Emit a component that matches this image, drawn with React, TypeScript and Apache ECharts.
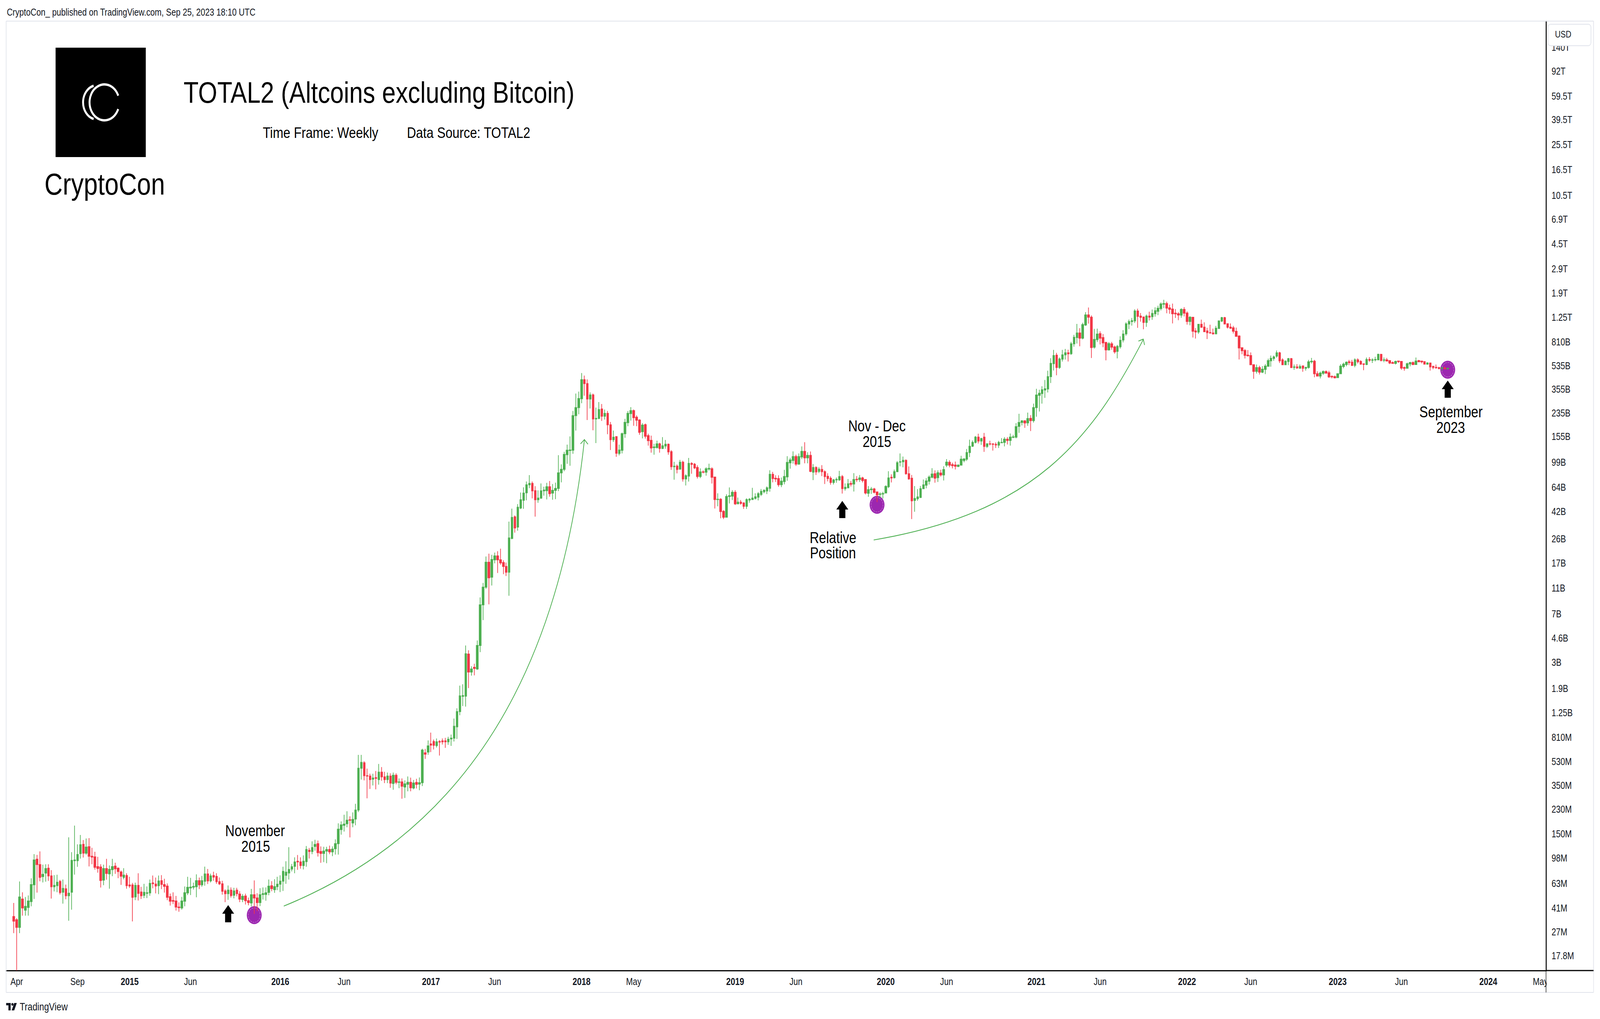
import React, { useEffect, useRef } from "react";
import * as echarts from "echarts";

// ---------- DATA (weekly candles, values in millions of USD: [open, close, low, high]) ----------
const FIRST_WEEK = "2014-03-31";

const ohlc2014: number[][] = [
  [35.4, 32.7, 26.5, 44.9], [33.5, 29.3, 13.8, 34.4], [29.3, 49.8, 26.5, 65.4], [48.1, 41.2, 36.0, 54.1],
  [39.6, 42.3, 36.0, 49.8], [41.5, 46.5, 36.0, 51.2], [46.0, 61.9, 42.4, 69.1], [61.7, 95.2, 48.2, 105.5],
  [96.5, 87.9, 53.8, 104.0], [87.9, 70.2, 65.6, 110.6], [71.2, 74.0, 64.3, 87.7], [75.7, 81.9, 65.1, 88.3],
  [82.5, 72.1, 66.1, 88.3], [72.1, 59.6, 48.5, 79.7], [59.6, 61.1, 54.9, 73.0], [60.8, 64.5, 54.2, 73.5],
  [65.4, 53.8, 52.0, 67.2], [54.2, 57.9, 44.4, 67.7], [57.5, 51.0, 47.9, 61.9], [51.0, 53.3, 32.9, 141.4],
  [54.2, 94.6, 39.9, 109.1], [94.1, 95.2, 73.7, 173.6], [94.1, 104.8, 84.4, 125.1], [106.4, 124.3, 97.4, 147.4],
  [125.1, 107.2, 99.4, 134.9], [107.2, 119.3, 104.3, 138.6], [120.1, 101.5, 85.0, 139.5], [101.5, 100.1, 88.5, 117.7],
  [100.5, 83.8, 80.4, 109.9], [84.8, 82.1, 76.2, 100.5], [84.2, 66.5, 58.8, 88.3], [67.0, 81.9, 61.3, 87.7],
  [81.9, 75.2, 67.4, 97.2], [74.7, 80.8, 57.6, 86.5], [80.4, 84.8, 71.7, 97.2], [85.4, 81.6, 74.7, 90.8],
  [82.5, 77.8, 69.3, 83.6], [77.1, 71.7, 61.6, 79.2], [70.2, 73.0, 67.9, 82.5], [72.5, 60.8, 57.6, 75.5],
];

const ohlc2015: number[][] = [
  [61.5, 60.4, 58.4, 71.0], [61.5, 49.6, 32.5, 63.7], [49.9, 61.1, 47.2, 64.1], [61.1, 53.1, 46.9, 75.5],
  [54.4, 51.0, 48.2, 59.5], [51.3, 54.1, 48.9, 62.8], [53.1, 53.7, 48.9, 59.9], [53.5, 63.2, 51.0, 67.7],
  [63.7, 62.9, 58.0, 72.5], [62.4, 60.4, 53.1, 70.0], [60.8, 65.9, 52.4, 72.5], [66.3, 62.1, 57.2, 73.0],
  [61.9, 60.0, 53.8, 68.6], [60.3, 49.6, 47.2, 63.2], [50.1, 46.3, 42.9, 52.9], [46.9, 46.3, 44.1, 54.1],
  [46.5, 41.8, 39.3, 50.8], [41.8, 41.4, 38.5, 45.4], [41.2, 46.5, 39.9, 49.9], [46.3, 53.7, 42.4, 59.9],
  [53.5, 59.0, 51.6, 71.0], [58.4, 59.2, 51.6, 69.6], [59.2, 59.9, 56.8, 64.1], [59.6, 66.3, 49.6, 74.0],
  [66.3, 61.7, 57.2, 70.0], [61.7, 66.3, 59.6, 72.0], [65.6, 74.5, 60.8, 84.8], [74.5, 66.0, 62.5, 81.4],
  [66.0, 72.0, 64.3, 75.0], [72.5, 70.6, 66.2, 77.6], [71.5, 65.2, 62.7, 75.5], [65.2, 62.7, 61.4, 70.1],
  [62.7, 55.1, 51.9, 66.2], [55.4, 52.8, 45.5, 57.0], [52.8, 56.2, 47.4, 61.0], [56.2, 51.1, 49.3, 58.9],
  [51.4, 55.4, 48.7, 58.5], [56.2, 52.8, 50.4, 58.5], [52.5, 48.0, 45.5, 55.1], [47.7, 50.4, 45.5, 52.5],
  [50.7, 46.7, 43.7, 52.8], [46.7, 45.2, 43.1, 49.3], [44.9, 51.8, 42.2, 57.4], [51.8, 49.0, 37.1, 66.6],
  [49.0, 45.2, 38.9, 53.2], [45.2, 51.8, 42.5, 58.1], [52.1, 52.8, 47.7, 58.9], [52.1, 53.6, 46.7, 58.9],
  [54.0, 60.2, 51.4, 67.6], [60.6, 57.7, 55.1, 65.7], [56.6, 59.7, 53.6, 68.0], [59.7, 62.3, 56.2, 70.9],
];

const ohlc2016: number[][] = [
  [62.3, 65.7, 54.3, 72.8], [65.7, 78.0, 55.4, 84.6], [72.8, 76.9, 62.7, 93.1], [75.9, 80.7, 67.6, 119.0],
  [81.2, 84.6, 78.0, 88.8], [85.2, 91.9, 75.4, 99.7], [93.1, 91.9, 80.1, 103.8], [91.9, 86.4, 81.8, 99.7],
  [86.4, 93.1, 80.7, 103.2], [92.5, 114.3, 84.6, 121.5], [112.7, 110.4, 97.7, 117.4], [110.4, 118.2, 105.3, 131.9],
  [120.7, 124.9, 111.9, 135.5], [126.6, 108.2, 101.1, 133.7], [110.4, 106.7, 90.6, 120.7], [106.7, 111.2, 91.6, 119.9],
  [111.2, 114.3, 90.0, 119.9], [114.3, 109.7, 105.3, 122.4], [109.7, 115.1, 101.7, 120.7], [115.8, 126.6, 104.5, 136.5],
  [126.6, 162.9, 104.5, 180.6], [161.8, 175.7, 148.1, 186.8], [174.5, 178.1, 156.4, 209.8], [179.3, 190.6, 168.6, 223.1],
  [192.0, 190.6, 141.2, 204.2], [181.8, 193.3, 168.6, 218.6], [194.6, 227.7, 174.5, 254.0], [227.7, 472.5, 220.1, 597.3],
  [472.5, 523.4, 387.8, 597.3], [519.8, 415.2, 382.5, 534.2], [415.2, 412.4, 279.4, 469.3], [412.4, 387.8, 329.2, 429.6],
  [390.4, 398.5, 350.0, 429.6], [401.3, 395.8, 327.0, 450.5], [387.8, 441.4, 354.8, 509.3], [441.4, 406.8, 379.9, 482.3],
  [406.8, 387.8, 364.6, 444.4], [387.8, 412.4, 364.6, 438.4], [412.4, 364.6, 336.0, 432.5], [362.1, 418.1, 324.8, 438.4],
  [418.1, 369.6, 357.2, 432.5], [369.6, 372.2, 333.8, 395.8], [372.2, 345.3, 277.5, 395.8], [340.7, 359.7, 281.3, 382.5],
  [357.2, 369.6, 316.0, 409.6], [369.6, 336.0, 316.0, 401.3], [335.0, 365.4, 326.9, 385.3], [369.0, 356.7, 331.7, 392.9],
  [358.4, 367.2, 322.2, 402.5], [367.2, 649.4, 346.5, 665.3], [618.8, 604.0, 556.5, 662.2], [627.9, 698.6, 598.3, 769.4],
];

const ohlc2017: number[][] = [
  [722.6, 708.8, 627.9, 880.7], [754.7, 705.4, 655.7, 780.6], [702.0, 751.0, 678.6, 795.9], [754.7, 747.4, 589.7, 773.1],
  [762.0, 751.0, 715.7, 795.9], [762.0, 751.0, 675.3, 803.5], [751.0, 784.4, 712.2, 819.0], [788.2, 799.8, 698.6, 851.5],
  [799.8, 984.2, 754.7, 1127], [974.8, 1272, 788.2, 1348], [1272, 1675, 1194, 2003], [1659, 1683, 1401, 2052],
  [1667, 3492, 1387, 4036], [3475, 2539, 1918, 3718], [2539, 2677, 2384, 2809], [2755, 2703, 2395, 2935],
  [2677, 4036, 2639, 4403], [4036, 8213, 3594, 9359], [8213, 11195, 6297, 12032], [11195, 17292, 10875, 19138],
  [17292, 13193, 8292, 20087], [13321, 18149, 11524, 19702], [18061, 19324, 16963, 20480], [19324, 18061, 14322, 20981],
  [18061, 17128, 16557, 21913], [17211, 16082, 14047, 17886], [16082, 14532, 13583, 17211], [14532, 26460, 9634, 35190],
  [26205, 37850, 25823, 44157], [38217, 31500, 29000, 39145], [31960, 45240, 29990, 47710], [44590, 51530, 43740, 58470],
  [51050, 57900, 43950, 64070], [58180, 66910, 51050, 70900], [66910, 68550, 63150, 79250], [68550, 60180, 52800, 70900],
  [60470, 51530, 38400, 65310], [51530, 53060, 48880, 60760], [53060, 60180, 52290, 68550], [60180, 61050, 55420, 64680],
  [60470, 64680, 51780, 69210], [64680, 57330, 54360, 71590], [57900, 60760, 51530, 67880], [60760, 62840, 52040, 69550],
  [62840, 82380, 59900, 112200], [82380, 87700, 69890, 95700], [87700, 113900, 84800, 118900], [113300, 122400, 96630, 134900],
  [121800, 123000, 93420, 155900], [122400, 224000, 115000, 243200], [224000, 257800, 172600, 329800], [257800, 302300, 229500, 341200],
];

const ohlc2018: number[][] = [
  [300900, 420100, 278400, 471600], [420100, 392600, 317300, 451400], [392600, 299400, 207400, 422100], [299400, 321900, 254000, 336300],
  [321900, 211400, 173400, 329800], [211400, 213500, 138800, 257800], [213500, 249200, 210400, 283900], [251600, 221900, 204400, 274400],
  [221900, 232900, 209400, 249200], [232900, 191000, 162100, 243200], [191000, 147200, 123000, 200500], [147200, 153700, 141500, 172600],
  [155200, 116100, 109000, 156700], [115700, 122800, 111800, 135000], [122300, 163500, 115700, 166900], [163500, 199200, 152100, 211900],
  [198300, 233100, 186500, 242900], [232100, 244600, 205300, 260000], [244600, 216300, 187800, 249600], [217900, 206700, 186500, 225300],
  [207600, 167300, 160500, 210500], [169500, 190000, 150700, 196600], [191300, 156300, 150000, 195300], [158000, 144900, 132600, 163500],
  [145600, 127300, 117300, 158000], [128200, 129600, 113300, 136900], [128200, 136900, 126400, 144900], [136900, 126400, 117300, 139700],
  [126400, 132300, 125000, 153900], [131700, 136000, 125600, 146600], [136000, 118900, 113300, 137800], [119400, 91800, 86900, 122600],
  [91800, 92600, 73200, 100000], [92800, 87500, 81700, 95400], [88100, 99300, 86900, 103500], [99300, 74200, 70800, 102100],
  [74200, 78500, 66100, 80400], [77900, 97300, 70800, 107100], [97300, 95600, 81200, 99300], [96000, 89900, 88100, 97900],
  [90500, 77400, 74700, 94100], [77400, 83900, 75200, 89100], [83900, 83400, 81700, 86100], [83400, 88500, 78500, 90900],
  [88100, 89100, 85700, 96700], [88500, 76300, 68400, 90900], [76600, 51700, 44200, 77200], [51700, 52000, 46000, 57700],
  [52000, 41900, 37300, 53000], [42100, 38000, 36800, 43000], [38000, 54500, 37800, 56700], [54500, 55300, 48300, 63900],
  [54900, 58700, 51300, 60900],
];

const ohlc2019: number[][] = [
  [58700, 48000, 47000, 60900], [48000, 49400, 47800, 53500], [49400, 48300, 47300, 51300], [48700, 46000, 43900, 49300],
  [46000, 51700, 43900, 52800], [51300, 52000, 49000, 53100], [51700, 53100, 51300, 63500], [52800, 54300, 51700, 57700],
  [53900, 57300, 50900, 58900], [56500, 59700, 55000, 62200], [59300, 60800, 57700, 61800], [60100, 63500, 56900, 65000],
  [63000, 80400, 59300, 86300], [80400, 74700, 69800, 83900], [75000, 74200, 70300, 79000], [74700, 67000, 64700, 79000],
  [67000, 71300, 64300, 75900], [70800, 77400, 67500, 86900], [76900, 98900, 71800, 110300], [98200, 103200, 88700, 107300],
  [102400, 109600, 96900, 120000], [109600, 96200, 93000, 113300], [96200, 109600, 95000, 115700], [108800, 120000, 105100, 130800],
  [120000, 107300, 97500, 141000], [107300, 111800, 97500, 118100], [111800, 84500, 83400, 119700], [83400, 90500, 72600, 96200],
  [90500, 83900, 79500, 92400], [84500, 87900, 82200, 91100], [87500, 84100, 77900, 94300], [84100, 77200, 67800, 86100],
  [77600, 74700, 71100, 81900], [75000, 69700, 67000, 77700], [69700, 72900, 67300, 74200], [72900, 73500, 69400, 75900],
  [73000, 77200, 71600, 85500], [77200, 62600, 57400, 79400], [62600, 64000, 60400, 68600], [63500, 68100, 62900, 74000],
  [68400, 67600, 65000, 71600], [67800, 73400, 59500, 82000], [73700, 73200, 70300, 77900], [73400, 75400, 70300, 79400],
  [75400, 72100, 69700, 77000], [73400, 58000, 56500, 73700], [57700, 61500, 54300, 65500], [61500, 62100, 57100, 64400],
  [62200, 58700, 57500, 63500], [59000, 56100, 49500, 59700], [56600, 57000, 53000, 58700], [57000, 57400, 52700, 59200],
];

const ohlc2020: number[][] = [
  [58000, 65000, 57800, 66400], [64700, 75400, 63200, 84900], [76300, 75400, 69700, 80300], [75800, 84100, 74700, 87300],
  [84100, 98400, 83700, 101400], [99500, 100200, 92400, 115700], [100200, 102500, 90900, 109600], [102500, 81200, 79900, 104400],
  [81200, 74200, 73200, 92200], [75000, 50600, 36800, 79400], [50900, 52700, 41800, 65500], [52400, 54200, 50600, 62100],
  [53600, 62500, 53200, 65600], [62500, 66800, 62200, 73400], [66500, 71600, 62900, 75200], [71300, 76600, 67300, 79000],
  [76300, 80800, 74900, 89500], [81200, 75200, 69400, 86100], [75800, 82600, 70300, 86100], [82200, 79500, 77200, 87100],
  [79500, 87300, 72100, 92600], [94300, 99500, 91100, 104900], [99100, 94300, 90900, 102800], [95100, 93600, 89100, 98400],
  [94500, 92600, 87500, 100500], [92200, 94300, 91100, 95600], [94300, 104600, 94100, 111100], [102300, 105100, 99100, 106600],
  [104600, 117500, 101600, 125100], [117500, 131100, 108600, 147300], [131400, 140300, 129600, 145200], [140300, 153900, 137800, 157100],
  [153900, 143800, 137800, 163500], [143800, 150000, 134200, 152100], [153900, 130800, 118900, 165800], [130800, 136900, 127300, 138500],
  [137200, 136300, 133200, 144600], [136600, 135700, 121700, 138500], [135700, 134200, 127300, 140300], [133800, 140300, 127300, 144200],
  [139400, 140300, 138500, 151400], [140300, 148600, 130800, 153900], [148300, 145200, 135400, 153900], [145200, 153900, 132600, 163900],
  [153500, 154600, 151400, 160200], [153900, 184800, 150700, 196600], [185800, 198800, 166100, 231600], [198800, 204400, 189100, 207100],
  [204400, 197100, 181100, 207100], [197500, 212800, 187800, 236400], [213500, 205400, 171200, 226000], [205400, 257900, 198500, 276400],
];

const ohlc2021: number[][] = [
  [257900, 321400, 219900, 358600], [319900, 331100, 240900, 352100], [329600, 352100, 276400, 374500], [350500, 358600, 306000, 417700],
  [357000, 443000, 335700, 491100], [443000, 558100, 396400, 610900], [555600, 640600, 493300, 706400], [645000, 519500, 453300, 672100],
  [519500, 602600, 506600, 619000], [601200, 647800, 576800, 706400], [647800, 672100, 597000, 719300], [672100, 659800, 576800, 709300],
  [661400, 786000, 647800, 813300], [786000, 880600, 747900, 919700], [876500, 949800, 789600, 1113000], [949800, 867000, 753000, 1033000],
  [867000, 1100000, 849700, 1136000], [1093000, 1303000, 1074000, 1365000], [1303000, 1253000, 1118000, 1483000], [1253000, 736000, 613800, 1291000],
  [741100, 847800, 722600, 1021000], [845900, 932400, 811500, 1026000], [938900, 867000, 778200, 977200], [876500, 798800, 741100, 932400],
  [804300, 706400, 588800, 814900], [706400, 787800, 698000, 809600], [786000, 741100, 709300, 813300], [744500, 683000, 661400, 762700],
  [689300, 751300, 609500, 771500], [746200, 836100, 722600, 896800], [839900, 932400, 806100, 998200], [934600, 1113000, 905100, 1146000],
  [1111000, 1160000, 1017000, 1200000], [1160000, 1178000, 1081000, 1236000], [1173000, 1395000, 1133000, 1438000], [1395000, 1270000, 1040000, 1453000],
  [1276000, 1248000, 1157000, 1346000], [1256000, 1141000, 1014000, 1262000], [1141000, 1276000, 1058000, 1312000], [1276000, 1253000, 1181000, 1377000],
  [1262000, 1336000, 1195000, 1430000], [1330000, 1401000, 1262000, 1487000], [1388000, 1463000, 1297000, 1528000], [1456000, 1577000, 1408000, 1621000],
  [1570000, 1588000, 1467000, 1698000], [1588000, 1467000, 1340000, 1643000], [1473000, 1436000, 1330000, 1558000], [1443000, 1330000, 1123000, 1588000],
  [1342000, 1327000, 1236000, 1443000], [1330000, 1300000, 1187000, 1368000], [1297000, 1433000, 1239000, 1463000], [1433000, 1343000, 1270000, 1493000],
];

const ohlc2022: number[][] = [
  [1346000, 1162000, 1100000, 1385000], [1162000, 1251000, 1086000, 1276000], [1251000, 979500, 878600, 1251000], [984000, 966200, 861100, 1035000],
  [966200, 1105000, 934600, 1113000], [1105000, 1050000, 1040000, 1200000], [1052000, 970600, 963900, 1144000], [984000, 954200, 854400, 1040000],
  [956400, 947500, 945000, 1098000], [949800, 934600, 924000, 1026000], [934600, 1033000, 932000, 1076000], [1028000, 1173000, 1024000, 1178000],
  [1170000, 1242000, 1149000, 1259000], [1242000, 1111000, 1105000, 1259000], [1116000, 1050000, 1028000, 1121000], [1052000, 1033000, 1021000, 1123000],
  [1040000, 979500, 941100, 1076000], [977200, 896800, 888600, 1043000], [900900, 730900, 598200, 911300], [734200, 696800, 655300, 739200],
  [700000, 642100, 607800, 717700], [645000, 637700, 629000, 704700], [640600, 545100, 541400, 676500], [545100, 485400, 426200, 550100],
  [485400, 518600, 467900, 547600], [518600, 478700, 459500, 536500], [478700, 504500, 471100, 532900], [502200, 532900, 462700, 551400],
  [530400, 586100, 530400, 606500], [583400, 610600, 526800, 640600], [607800, 624800, 583400, 640600], [633300, 671900, 616300, 700000],
  [671900, 583400, 562500, 684300], [594100, 545100, 543000, 610600], [545100, 579500, 541400, 588700], [576900, 606500, 541400, 614800],
  [606500, 518600, 515000, 614800], [520900, 525600, 498800, 547600], [525600, 516200, 508000, 551400], [512600, 529200, 511000, 547600],
  [534000, 512600, 482100, 536500], [512600, 520900, 492000, 525600], [519700, 574200, 509100, 594100], [574200, 579500, 556200, 614800],
  [579500, 465800, 438000, 594100], [465800, 447100, 445000, 486400], [447100, 471100, 429100, 484200], [469000, 484200, 456300, 494100],
  [484200, 471100, 465800, 494100], [474300, 441000, 433100, 490900], [445100, 441000, 429100, 452200], [443000, 434100, 429100, 452200],
];

const ohlc2023: number[][] = [
  [435100, 465800, 433100, 467900], [465800, 532900, 464000, 551400], [529200, 551400, 512600, 566400], [547600, 570300, 530400, 578200],
  [574200, 566400, 541400, 594100], [570300, 540200, 532900, 594100], [540200, 594100, 522000, 610600], [594100, 574200, 556200, 610600],
  [578200, 551400, 545100, 590100], [553700, 548700, 495400, 558800], [547600, 598200, 541400, 619000], [598200, 590100, 574200, 623300],
  [590100, 594100, 562500, 610600], [594100, 598200, 578200, 627600], [594100, 653900, 590100, 662800], [653900, 587400, 578200, 659800],
  [590100, 594100, 570300, 619000], [594100, 582100, 578200, 614800], [586100, 562500, 551400, 590100], [566400, 558800, 555000, 578200],
  [558800, 578200, 547600, 586100], [582100, 575500, 562500, 586100], [578200, 515000, 498800, 582100], [518600, 512600, 491000, 529200],
  [512600, 555000, 511000, 566400], [552400, 566400, 530400, 574200], [566400, 547600, 541400, 578200], [547600, 582100, 543900, 619000],
  [586100, 574200, 570300, 594100], [580800, 574200, 558800, 586100], [575500, 551400, 550000, 578200], [551400, 562500, 545100, 570300],
  [562500, 525600, 492000, 566400], [530400, 519700, 504500, 532900], [522000, 516200, 509100, 547600], [518600, 509100, 504500, 525600],
  [512600, 516200, 492000, 525600], [516200, 508000, 505600, 529200], [508000, 512600, 505600, 515000],
];

// price-scale tick labels (log scale)
const priceTickLabels = [
  "140T", "92T", "59.5T", "39.5T", "25.5T", "16.5T", "10.5T", "6.9T", "4.5T", "2.9T", "1.9T", "1.25T",
  "810B", "535B", "355B", "235B", "155B", "99B", "64B", "42B", "26B", "17B", "11B", "7B", "4.6B", "3B",
  "1.9B", "1.25B", "810M", "530M", "350M", "230M", "150M", "98M", "63M", "41M", "27M", "17.8M",
];

// time-scale tick labels
const dateTickDates = [
  "2014-04-07", "2014-09-01", "2015-01-05", "2015-06-01", "2016-01-04", "2016-06-06", "2017-01-02", "2017-06-05",
  "2018-01-01", "2018-05-07", "2019-01-07", "2019-06-03", "2020-01-06", "2020-06-01", "2021-01-04", "2021-06-07",
  "2022-01-03", "2022-06-06", "2023-01-02", "2023-06-05", "2024-01-01", "2024-05-06",
];
const dateTickLabels = [
  "Apr", "Sep", "2015", "Jun", "2016", "Jun", "2017", "Jun", "2018", "May", "2019", "Jun",
  "2020", "Jun", "2021", "Jun", "2022", "Jun", "2023", "Jun", "2024", "May",
];

// annotation markers: [date, value in USD]
const circleMarks: [string, number][] = [
  ["2015-11-02", 36.3e6],
  ["2019-12-16", 47.2e9],
  ["2023-09-25", 500e9],
];
const arrowMarks: [string, number][] = [
  ["2015-08-31", 37.2e6],
  ["2019-09-23", 43.5e9],
  ["2023-09-25", 356e9],
];

// visible axis range
const X_MIN = Date.UTC(2014, 2, 12, 12);
const X_MAX = Date.UTC(2024, 4, 19, 12);
const Y_MIN = 7.1394; // log10(USD)
const Y_MAX = 14.3444;

// ---------- helpers ----------
const W = 4950;
const H = 2608;
const FONT = '"Liberation Sans", Arial, Helvetica, sans-serif';
const TXT = "#131722";
const WEEK_MS = 7 * 86400000;

function parseAbbrev(s: string): number {
  const mult: Record<string, number> = { T: 1e12, B: 1e9, M: 1e6 };
  return parseFloat(s) * mult[s.slice(-1)];
}

function txt(x: number, y: number, text: string, size: number, align = "center", fill = "#000", weight = "normal") {
  return {
    type: "text",
    x,
    y,
    z: 100,
    silent: true,
    style: {
      text,
      fontSize: size,
      fontFamily: FONT,
      fontWeight: weight,
      fill,
      align,
      verticalAlign: "middle",
      textAlign: align,
      textVerticalAlign: "middle",
    },
  };
}

function line(x1: number, y1: number, x2: number, y2: number, stroke: string, lineWidth: number, z = 90) {
  return { type: "line", z, silent: true, shape: { x1, y1, x2, y2 }, style: { stroke, lineWidth } };
}

function buildOption() {
  const week0 = Date.parse(FIRST_WEEK);
  const rows = [
    ...ohlc2014, ...ohlc2015, ...ohlc2016, ...ohlc2017, ...ohlc2018,
    ...ohlc2019, ...ohlc2020, ...ohlc2021, ...ohlc2022, ...ohlc2023,
  ];
  const lg = (m: number) => Math.log10(m * 1e6);
  const candleData = rows.map((r, i) => [week0 + i * WEEK_MS, lg(r[0]), lg(r[1]), lg(r[2]), lg(r[3])]);

  const priceTickLogs = priceTickLabels.map((s) => Math.log10(parseAbbrev(s)));
  const dateTickTimes = dateTickDates.map((d) => Date.parse(d));

  const GREEN = "#4caf50";
  const RED = "#f23645";
  const PURPLE = "#9c27b0";

  const g: any[] = [];
  // chart frame
  g.push(line(19, 54, 4930, 54, "#e0e3eb", 2, 40));
  g.push(line(19, 54, 19, 2540, "#e0e3eb", 2, 40));
  g.push(line(4930, 54, 4930, 2540, "#e0e3eb", 2, 40));
  g.push(line(19, 2540, 4930, 2540, "#e0e3eb", 2, 40));
  // cover for the part of the time scale under the price scale
  g.push({ type: "rect", z: 60, silent: true, shape: { x: 4785, y: 2487, width: 144, height: 52 }, style: { fill: "#ffffff" } });
  g.push(line(4783, 2484, 4930, 2484, "#000", 3, 70));
  g.push(line(4783, 2484, 4783, 2540, "#000", 1.5, 70));
  // USD box
  g.push({
    type: "rect", z: 95, silent: true,
    shape: { x: 4789, y: 62, width: 133, height: 55, r: 8 },
    style: { fill: "#ffffff", stroke: "#e0e3eb", lineWidth: 2 },
  });
  g.push(txt(4836, 88, "USD", 24, "center", TXT));

  // header
  g.push(txt(21, 31, "CryptoCon_ published on TradingView.com, Sep 25, 2023 18:10 UTC", 25, "left", TXT));
  // logo
  g.push({ type: "rect", z: 90, silent: true, shape: { x: 172, y: 122, width: 279, height: 280 }, style: { fill: "#000" } });
  g.push({
    type: "arc", z: 95, silent: true,
    shape: { cx: 323, cy: 262, r: 46, startAngle: (22 * Math.PI) / 180, endAngle: (338 * Math.PI) / 180, clockwise: true },
    style: { stroke: "#ffffff", lineWidth: 6, fill: "none" },
  });
  g.push({
    type: "arc", z: 95, silent: true,
    shape: { cx: 301, cy: 262, r: 44, startAngle: (105 * Math.PI) / 180, endAngle: (255 * Math.PI) / 180, clockwise: true },
    style: { stroke: "#ffffff", lineWidth: 6, fill: "none" },
  });
  g.push(txt(324, 471, "CryptoCon", 78, "center", "#000"));
  g.push(txt(568, 237, "TOTAL2 (Altcoins excluding Bitcoin)", 76, "left", "#000"));
  g.push(txt(813, 340, "Time Frame: Weekly", 39, "left", "#000"));
  g.push(txt(1259, 340, "Data Source: TOTAL2", 39, "left", "#000"));

  // annotations
  g.push(txt(789, 2126, "November", 40));
  g.push(txt(791, 2166, "2015", 40));
  g.push(txt(2713, 1090, "Nov - Dec", 40));
  g.push(txt(2713, 1130, "2015", 40));
  g.push(txt(2577, 1376, "Relative", 40));
  g.push(txt(2577, 1415, "Position", 40));
  g.push(txt(4489, 1054, "September", 40));
  g.push(txt(4488, 1094, "2023", 40));

  // curved arrows
  g.push({
    type: "bezierCurve", z: 20, silent: true,
    shape: { x1: 878, y1: 2319, cpx1: 1445, cpy1: 2127, cpx2: 1731, cpy2: 1719, x2: 1808, y2: 1126 },
    style: { stroke: GREEN, lineWidth: 2.2, fill: "none" },
  });
  g.push({
    type: "polyline", z: 20, silent: true,
    shape: { points: [[1796, 1136], [1808, 1125], [1819, 1137]] },
    style: { stroke: GREEN, lineWidth: 2.2, fill: "none" },
  });
  g.push({
    type: "bezierCurve", z: 20, silent: true,
    shape: { x1: 2703, y1: 1382, cpx1: 3203, cpy1: 1312, cpx2: 3378, cpy2: 1123, x2: 3537, y2: 869 },
    style: { stroke: GREEN, lineWidth: 2.2, fill: "none" },
  });
  g.push({
    type: "polyline", z: 20, silent: true,
    shape: { points: [[3522, 873], [3537, 868], [3541, 883]] },
    style: { stroke: GREEN, lineWidth: 2.2, fill: "none" },
  });

  // TradingView footer mark
  g.push({ type: "rect", z: 90, silent: true, shape: { x: 19, y: 2567, width: 14, height: 6 }, style: { fill: TXT } });
  g.push({ type: "rect", z: 90, silent: true, shape: { x: 26, y: 2567, width: 7, height: 19 }, style: { fill: TXT } });
  g.push({ type: "circle", z: 90, silent: true, shape: { cx: 38.5, cy: 2570.5, r: 3.5 }, style: { fill: TXT } });
  g.push({ type: "polygon", z: 90, silent: true, shape: { points: [[44, 2567], [52, 2567], [44, 2586], [36, 2586]] }, style: { fill: TXT } });
  g.push(txt(61, 2577, "TradingView", 27, "left", TXT));

  return {
    animation: false,
    backgroundColor: "#ffffff",
    grid: { left: 19, right: 167, top: 54, bottom: 124, containLabel: false },
    xAxis: {
      type: "value",
      min: X_MIN,
      max: X_MAX,
      axisLine: { show: true, onZero: false, lineStyle: { color: "#000", width: 3 } },
      axisTick: { show: false },
      splitLine: { show: false },
      axisLabel: {
        customValues: dateTickTimes,
        margin: 16,
        color: TXT,
        fontSize: 25,
        fontFamily: FONT,
        formatter: (v: number) => {
          const i = dateTickTimes.findIndex((t) => Math.abs(t - v) < 60000);
          if (i < 0) return "";
          const lab = dateTickLabels[i];
          return /^\d{4}$/.test(lab) ? `{y|${lab}}` : `{m|${lab}}`;
        },
        rich: {
          y: { fontWeight: "bold", fontSize: 25, fontFamily: FONT, color: TXT },
          m: { fontWeight: "normal", fontSize: 25, fontFamily: FONT, color: TXT },
        },
      },
    },
    yAxis: {
      type: "value",
      position: "right",
      min: Y_MIN,
      max: Y_MAX,
      axisLine: { show: true, onZero: false, lineStyle: { color: "#000", width: 3 } },
      axisTick: { show: false },
      splitLine: { show: false },
      axisLabel: {
        customValues: priceTickLogs,
        margin: 17,
        color: TXT,
        fontSize: 25,
        fontFamily: FONT,
        formatter: (v: number) => {
          const i = priceTickLogs.findIndex((t) => Math.abs(t - v) < 1e-4);
          return i < 0 ? "" : priceTickLabels[i];
        },
      },
    },
    series: [
      {
        type: "scatter",
        z: 1,
        silent: true,
        symbol: "circle",
        symbolSize: 46,
        itemStyle: { color: PURPLE, opacity: 1 },
        data: circleMarks.map(([d, v]) => [Date.parse(d), Math.log10(v)]),
      },
      {
        type: "scatter",
        z: 1,
        silent: true,
        symbol: "circle",
        symbolSize: 37,
        itemStyle: { color: "rgba(0,0,0,0)", borderColor: "rgba(255,255,255,0.45)", borderWidth: 1.2, borderType: "dashed", opacity: 1 },
        data: circleMarks.map(([d, v]) => [Date.parse(d), Math.log10(v)]),
      },
      {
        type: "candlestick",
        z: 2,
        barWidth: 6,
        data: candleData,
        itemStyle: {
          color: GREEN,
          color0: RED,
          borderColor: GREEN,
          borderColor0: RED,
          borderWidth: 2,
        },
      },
      {
        type: "scatter",
        z: 3,
        silent: true,
        symbol: "path://M18.5,0L37,22L28,22L28,44L9,44L9,22L0,22Z",
        symbolSize: [37, 44],
        itemStyle: { color: "#000", opacity: 1 },
        data: arrowMarks.map(([d, v]) => [Date.parse(d), Math.log10(v)]),
      },
    ],
    graphic: { elements: g },
  };
}

// The photographed viewport can be narrower than the requested 4950x2608;
// stretch the fixed-size chart so that it fills whatever viewport is given.
function fitScale(): [number, number] {
  if (typeof window === "undefined") return [1, 1];
  const vw = window.innerWidth || W;
  const vh = window.innerHeight || H;
  return [Math.min(1, vw / W), Math.min(1, vh / H)];
}

export default function App() {
  const ref = useRef<HTMLDivElement>(null);
  const [sx, sy] = fitScale();
  useEffect(() => {
    document.documentElement.style.overflow = "hidden";
    document.body.style.overflow = "hidden";
    if (!ref.current) return;
    const chart = echarts.init(ref.current, undefined, { renderer: "svg", width: W, height: H });
    chart.setOption(buildOption() as any);
    return () => chart.dispose();
  }, []);
  return (
    <div
      style={{
        position: "absolute",
        left: 0,
        top: 0,
        width: W * sx,
        height: H * sy,
        overflow: "hidden",
        background: "#ffffff",
      }}
    >
      <div
        ref={ref}
        style={{ width: W, height: H, transform: `scale(${sx}, ${sy})`, transformOrigin: "0 0" }}
      />
    </div>
  );
}
